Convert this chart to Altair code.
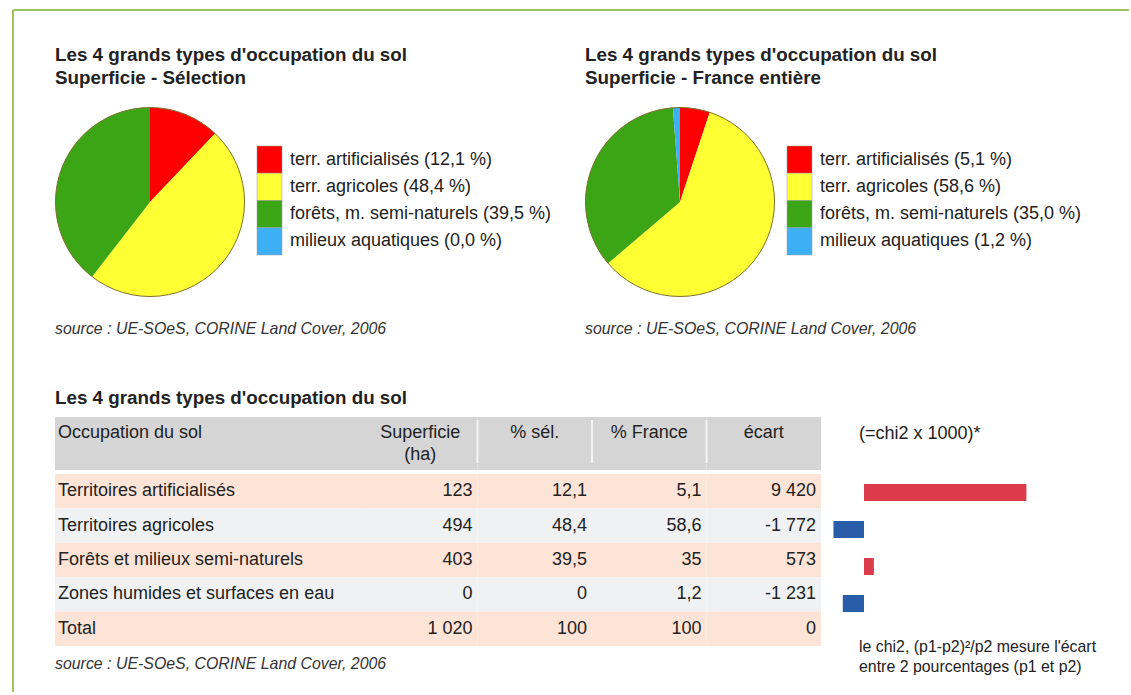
import altair as alt
import pandas as pd

FONT = "Liberation Sans"
TXT = "#222222"
BORDER = "#9cc45c"
GRAY = "#d5d5d5"
SALMON = "#fde4d7"
LIGHT = "#eff1f3"
FS = 18          # body text size
FS_TITLE = 18.8  # bold titles
FS_NOTE = 15.9   # notes

# ---------------- data ----------------
pie_categories = ["terr. artificialisés", "terr. agricoles", "forêts, m. semi-naturels", "milieux aquatiques"]
pct_selection = [12.1, 48.4, 39.5, 0.0]
pct_france = [5.1, 58.6, 35.0, 1.2]
pie_colors = ["#ff0000", "#ffff33", "#3ca515", "#3db0f5"]

row_labels = ["Territoires artificialisés", "Territoires agricoles", "Forêts et milieux semi-naturels",
              "Zones humides et surfaces en eau", "Total"]
superficie_ha = [123, 494, 403, 0, 1020]
pct_sel_rows = [12.1, 48.4, 39.5, 0, 100]
pct_fr_rows = [5.1, 58.6, 35, 1.2, 100]
ecart_rows = [9420, -1772, 573, -1231, 0]
column_headers = ["Superficie", "% sél.", "% France", "écart"]
column_subheaders = ["(ha)", "", "", ""]

main_title = "Les 4 grands types d'occupation du sol"
pie_subtitles = ["Superficie - Sélection", "Superficie - France entière"]
source_text = "source : UE-SOeS, CORINE Land Cover, 2006"
chi_title = "(=chi2 x 1000)*"
chi_note = ["le chi2, (p1-p2)²/p2 mesure l'écart", "entre 2 pourcentages (p1 et p2)"]
table_first_header = "Occupation du sol"


def fmt1(v):
    return f"{v:.1f}".replace(".", ",")


def fmt_num(v):
    if float(v) == int(v):
        return f"{int(v):,}".replace(",", " ")
    return str(v).replace(".", ",")


def note(text, x, y, size=FS, weight="normal", style="normal", color=TXT,
         align="left", baseline="alphabetic", line_height=None):
    kw = dict(align=align, baseline=baseline, fontSize=size, fontWeight=weight,
              fontStyle=style, color=color, font=FONT)
    if line_height:
        kw.update(lineBreak="\n", lineHeight=line_height)
    return alt.Chart(alt.Data(values=[{"t": text}])).mark_text(**kw).encode(
        x=alt.value(x), y=alt.value(y), text="t:N")


def pie_panel(pcts, subtitle, border=False):
    labels = [f"{c} ({fmt1(p)} %)" for c, p in zip(pie_categories, pcts)]
    df = pd.DataFrame({"label": labels, "pct": pcts, "idx": list(range(len(pcts)))})
    col_enc = alt.Color("label:N", scale=alt.Scale(domain=labels, range=pie_colors), legend=None)
    arcs = alt.Chart(df).mark_arc(radius=94.5).encode(
        theta=alt.Theta("pct:Q", stack=True),
        color=col_enc,
        order=alt.Order("idx:Q"),
    )
    rim = alt.Chart(alt.Data(values=[{}])).mark_arc(
        radius=94.5, theta=0, theta2=6.2832, filled=False, stroke="#7d6f2e", strokeWidth=1
    ).encode(x=alt.value(95), y=alt.value(95))
    # legend drawn as boxes + labels on a band scale
    y_leg = alt.Y("label:N", sort=labels, axis=None,
                  scale=alt.Scale(paddingInner=0, paddingOuter=0, range=[39, 148]))
    leg_box = alt.Chart(df).mark_rect(stroke="#9a9a9a", strokeWidth=0.5).encode(
        x=alt.value(202), x2=alt.value(227), y=y_leg, color=col_enc)
    leg_txt = alt.Chart(df).mark_text(align="left", baseline="middle", fontSize=FS, font=FONT,
                                      color=TXT).encode(x=alt.value(235), y=y_leg, text="label:N")
    layers = [arcs, rim, leg_box, leg_txt,
              note(main_title + "\n" + subtitle, 0, -46.4, size=FS_TITLE, weight="bold", line_height=23.6),
              note(source_text, 0, 227, size=FS_NOTE, style="italic", color="#333333")]
    if border:
        top = alt.Chart(alt.Data(values=[{}])).mark_rule(color=BORDER, strokeWidth=2).encode(
            x=alt.value(-42), x2=alt.value(1074), y=alt.value(-97))
        left = alt.Chart(alt.Data(values=[{}])).mark_rule(color=BORDER, strokeWidth=2).encode(
            x=alt.value(-42), y=alt.value(-97), y2=alt.value(585))
        layers = [top, left] + layers
    return alt.layer(*layers).properties(width=190, height=190)


pie1 = pie_panel(pct_selection, pie_subtitles[0], border=True)
pie2 = pie_panel(pct_france, pie_subtitles[1])

# ---------------- table ----------------
parity = ["odd" if i % 2 == 0 else "even" for i in range(len(row_labels))]
body = pd.DataFrame({"row": row_labels, "parity": parity})
y_rows = alt.Y("row:N", sort=row_labels, axis=None, scale=alt.Scale(paddingInner=0, paddingOuter=0))
fill_par = alt.Fill("parity:N", scale=alt.Scale(domain=["odd", "even"], range=[SALMON, LIGHT]), legend=None)

TW0 = 308
label_bg = alt.Chart(body).mark_rect().encode(y=y_rows, x=alt.value(0), x2=alt.value(TW0 + 1), fill=fill_par)
label_txt = alt.Chart(body).mark_text(align="left", baseline="middle", fontSize=FS, font=FONT,
                                      color=TXT).encode(y=y_rows, x=alt.value(3), text="row:N")
label_hdr = alt.Chart(alt.Data(values=[{}])).mark_rect(color=GRAY).encode(
    x=alt.value(0), x2=alt.value(TW0 + 1), y=alt.value(-57), y2=alt.value(-4))
label_chart = alt.layer(
    label_hdr, label_bg, label_txt,
    note(table_first_header, 3, -36),
    note(main_title, 0, -70, size=FS_TITLE, weight="bold"),
    note(source_text, 0, 195, size=FS_NOTE, style="italic", color="#333333"),
).properties(width=TW0, height=172)

columns_values = [superficie_ha, pct_sel_rows, pct_fr_rows, ecart_rows]
cells = pd.DataFrame([
    {"row": r, "col": c, "txt": fmt_num(vals[i]), "parity": parity[i]}
    for c, vals in zip(column_headers, columns_values)
    for i, r in enumerate(row_labels)
])
hdr = pd.DataFrame({"col": column_headers, "sub": column_subheaders, "idx": list(range(len(column_headers)))})
x_scale = alt.Scale(paddingInner=0, paddingOuter=0)


def xcol(bp=None):
    if bp is None:
        return alt.X("col:N", sort=column_headers, axis=None, scale=x_scale)
    return alt.X("col:N", sort=column_headers, axis=None, scale=x_scale, bandPosition=bp)


num_bg = alt.Chart(cells).mark_rect().encode(x=xcol(), y=y_rows, fill=fill_par)
num_txt = alt.Chart(cells).mark_text(align="right", baseline="middle", dx=-5, fontSize=FS, font=FONT,
                                     color=TXT).encode(x=xcol(1), y=y_rows, text="txt:N")
num_hdr = alt.Chart(hdr).mark_rect(color=GRAY).encode(x=xcol(), y=alt.value(-57), y2=alt.value(-4))
num_sep = alt.Chart(hdr).transform_filter("datum.idx > 0").mark_rule(color="#f4f4f4", strokeWidth=2).encode(
    x=xcol(0), y=alt.value(-54), y2=alt.value(-11))
num_h1 = alt.Chart(hdr).mark_text(align="center", baseline="alphabetic", fontSize=FS, font=FONT,
                                  color=TXT).encode(x=xcol(0.5), y=alt.value(-36), text="col:N")
num_h2 = alt.Chart(hdr).mark_text(align="center", baseline="alphabetic", fontSize=FS, font=FONT,
                                  color=TXT).encode(x=xcol(0.5), y=alt.value(-14), text="sub:N")
num_chart = alt.layer(num_hdr, num_sep, num_bg, num_txt, num_h1, num_h2).properties(width=458, height=172)

# ---------------- chi2 bars ----------------
bars_df = pd.DataFrame({"row": row_labels[:4], "ecart": ecart_rows[:4],
                        "sign": ["pos" if v > 0 else "neg" for v in ecart_rows[:4]]})
bars = alt.Chart(bars_df).mark_bar(size=17).encode(
    x=alt.X("ecart:Q", axis=None, scale=alt.Scale(domain=[-2494, 10846], nice=False, zero=True)),
    y=alt.Y("row:N", sort=row_labels[:4], axis=None, scale=alt.Scale(paddingInner=0, paddingOuter=0)),
    color=alt.Color("sign:N", scale=alt.Scale(domain=["pos", "neg"], range=["#dc3b4b", "#2a5da9"]), legend=None),
)
bars_chart = alt.layer(
    bars,
    note(chi_title, 38, -35),
    note("\n".join(chi_note), 38, 177.7, size=FS_NOTE, line_height=20),
).properties(width=230, height=148)

top_row = alt.hconcat(pie1, pie2, spacing=340, bounds="flush").resolve_scale(
    color="independent", y="independent")
bottom_row = alt.hconcat(label_chart, num_chart, bars_chart, spacing=0, bounds="flush").resolve_scale(
    x="independent", y="independent", color="independent", fill="independent")

# nested flush rows report no height, so the spacing spans the top row's 190 px plus the gap
chart = alt.vconcat(top_row, bottom_row, spacing=367, bounds="flush").resolve_scale(
    color="independent", x="independent", y="independent", fill="independent"
).properties(
    padding={"left": 12, "top": 9, "right": 0, "bottom": 0}, background="white"
).configure(font=FONT, view=alt.ViewConfig(stroke="transparent", strokeWidth=0))

chart.save("out.html", embed_options={"renderer": "svg", "actions": False})
